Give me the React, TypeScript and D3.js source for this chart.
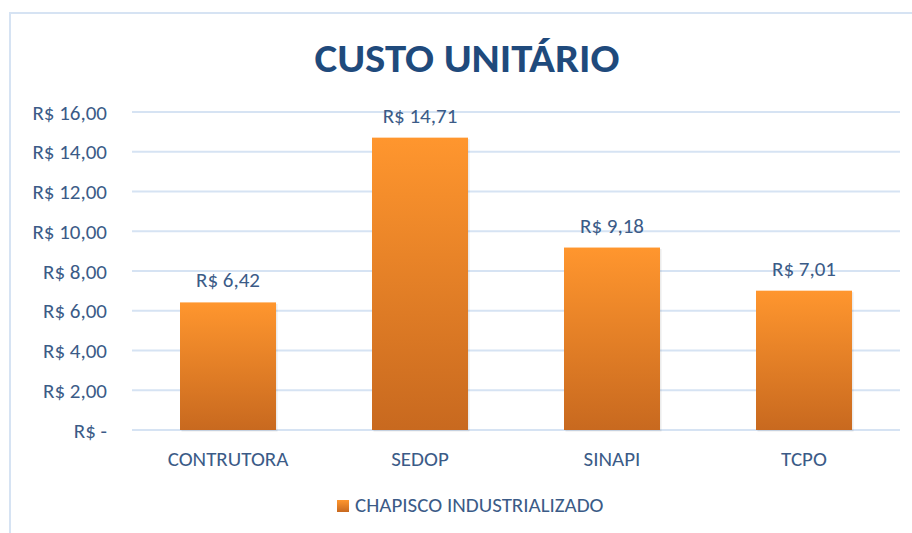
import React from "react";
import * as d3 from "d3";

// valores
const categories = ["CONTRUTORA", "SEDOP", "SINAPI", "TCPO"];
const values = [6.42, 14.71, 9.18, 7.01];
const valueLabels = ["R$ 6,42", "R$ 14,71", "R$ 9,18", "R$ 7,01"];
const ticks = [0, 2, 4, 6, 8, 10, 12, 14, 16];
const tickLabels = ["R$ -", "R$ 2,00", "R$ 4,00", "R$ 6,00", "R$ 8,00", "R$ 10,00", "R$ 12,00", "R$ 14,00", "R$ 16,00"];
const seriesName = "CHAPISCO INDUSTRIALIZADO";
const title = "CUSTO UNITÁRIO";

const W = 912;
const H = 533;
const font = "Carlito, 'Liberation Sans Narrow', Lato, 'Liberation Sans', Arial, sans-serif";
const textColor = "#3B5B87";
const fs = 21;

export default function App() {
  const x = d3.scaleBand<string>().domain(categories).range([132, 900]).paddingInner(0.5).paddingOuter(0.25);
  const y = d3.scaleLinear().domain([0, 16]).range([430, 112]);

  return (
    <svg width={W} height={H} style={{ position: "absolute", left: 0, top: 0 }}>
      <defs>
        <linearGradient id="barGrad" x1="0" y1="0" x2="0" y2="1">
          <stop offset="0%" stopColor="#FF962E" />
          <stop offset="100%" stopColor="#C8691F" />
        </linearGradient>
      </defs>
      <rect x={0} y={0} width={W} height={H} fill="#fff" />
      <rect x={10} y={13} width={W + 10} height={H + 10} fill="#fff" stroke="#D6E3F3" strokeWidth={2} />

      <text x={467} y={72} textAnchor="middle" fontFamily={font} fontWeight="bold" fontSize={41}
        fill="#1F4A7C" textLength={305} lengthAdjust="spacingAndGlyphs">{title}</text>

      {ticks.map((t, i) => (
        <g key={t}>
          <line x1={132} x2={900} y1={y(t)} y2={y(t)} stroke="#D6E3F3" strokeWidth={2} />
          <text x={107} y={y(t) + 7.5} textAnchor="end" fontFamily={font} fontSize={fs} fill={textColor}>
            {tickLabels[i]}
          </text>
        </g>
      ))}

      {categories.map((c, i) => {
        const bx = x(c)!;
        const bw = x.bandwidth();
        return (
          <g key={c}>
            <rect x={bx + 1.5} y={y(values[i]) + 1.5} width={bw} height={y(0) - y(values[i])} fill="#000" opacity={0.08} />
            <rect x={bx} y={y(values[i])} width={bw} height={y(0) - y(values[i])} fill="url(#barGrad)" />
            <text x={bx + bw / 2} y={y(values[i]) - 15} textAnchor="middle" fontFamily={font} fontSize={fs} fill={textColor}>
              {valueLabels[i]}
            </text>
            <text x={bx + bw / 2} y={466} textAnchor="middle" fontFamily={font} fontSize={fs} fill={textColor}>
              {c}
            </text>
          </g>
        );
      })}

      <rect x={337} y={500} width={12} height={12} fill="url(#barGrad)" />
      <text x={355} y={512} fontFamily={font} fontSize={fs} fill={textColor}>{seriesName}</text>
    </svg>
  );
}
